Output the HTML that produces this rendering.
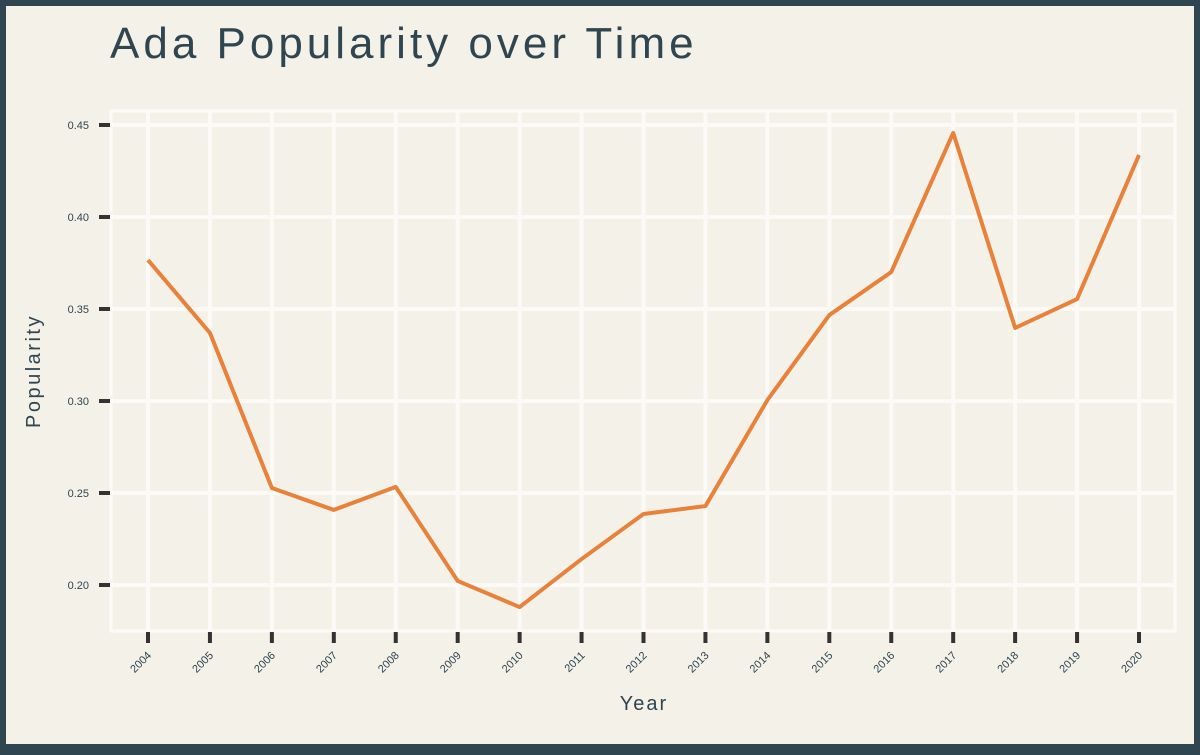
<!DOCTYPE html>
<html><head><meta charset="utf-8"><style>
body{margin:0;background:#2f4550;}
#wrap{position:absolute;left:0;top:0;width:1200px;height:750px;}
svg text{font-family:"Liberation Sans",sans-serif;}
</style></head><body>
<div id="wrap">
<svg id="chart" width="1200" height="750">
<rect x="0" y="0" width="1200" height="750" fill="#2f4550"/>
<rect x="6" y="6" width="1188" height="738" fill="#f4f1e9"/>
<text x="110" y="58" font-size="44" fill="#2f4550" style="letter-spacing:4px">Ada Popularity over Time</text>
<g id="grid"></g><g id="axes"></g><g id="series"></g>
<text x="644" y="710" font-size="20" fill="#2f4550" text-anchor="middle" style="letter-spacing:2px">Year</text>
<text transform="translate(40,371) rotate(-90)" font-size="20" fill="#2f4550" text-anchor="middle" style="letter-spacing:2.5px">Popularity</text>
</svg></div>
<script>
const years=[2004,2005,2006,2007,2008,2009,2010,2011,2012,2013,2014,2015,2016,2017,2018,2019,2020];
const popularity=[0.3766,0.337,0.2527,0.2408,0.2533,0.2022,0.188,0.2141,0.2386,0.2429,0.3005,0.3467,0.3701,0.4457,0.3397,0.3554,0.4337];
const yTicks=[0.20,0.25,0.30,0.35,0.40,0.45];
const yTickLabels=["0.20","0.25","0.30","0.35","0.40","0.45"];
const NS="http://www.w3.org/2000/svg";
const L=111,R=1175,T=111,B=631;
const x=i=>148+i*(1139-148)/(years.length-1);
const y=v=>125+(0.45-v)*1840;
function mk(tag,attrs,parent){const e=document.createElementNS(NS,tag);for(const k in attrs)e.setAttribute(k,attrs[k]);document.getElementById(parent).appendChild(e);return e;}
const border=mk('rect',{x:L,y:T,width:R-L,height:B-T,fill:'none',stroke:'#fbfaf6','stroke-width':3},'grid');


years.forEach((yr,i)=>{
 const g=mk('line',{x1:x(i),x2:x(i),y1:T,y2:B,stroke:'#fbfaf6','stroke-width':4},'grid');
 
 
 const t=mk('line',{x1:x(i),x2:x(i),y1:632,y2:643,stroke:'#333','stroke-width':4},'axes');
 
 
 const lb=mk('text',{transform:`translate(${x(i)+4},${656}) rotate(-45)`,'font-size':11,fill:'#2f4550','text-anchor':'end'},'axes');
 lb.textContent=yr;
 
 
});
yTicks.forEach((v,i)=>{
 const g=mk('line',{x1:L,x2:R,y1:y(v),y2:y(v),stroke:'#fbfaf6','stroke-width':4},'grid');
 
 
 const t=mk('line',{x1:99,x2:110,y1:y(v),y2:y(v),stroke:'#333','stroke-width':4},'axes');
 
 
 const lb=mk('text',{x:89,y:y(v)+4,'font-size':11,fill:'#2f4550','text-anchor':'end'},'axes');
 lb.textContent=yTickLabels[i];
 
 
});
const line=mk('polyline',{points:popularity.map((v,i)=>x(i)+','+y(v)).join(' '),fill:'none',stroke:'#e8823a','stroke-width':4,'stroke-linejoin':'round'},'series');


</script>
</body></html>
